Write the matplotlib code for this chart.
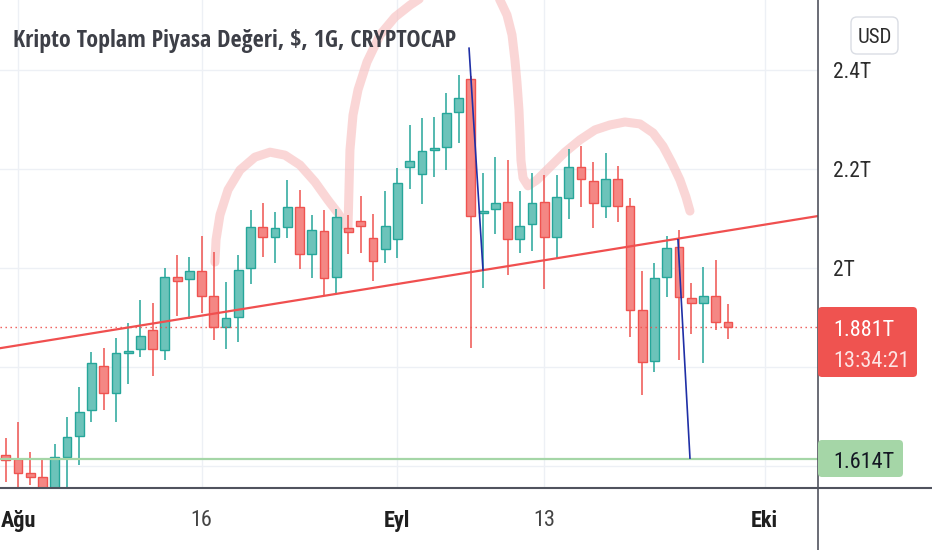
import matplotlib
matplotlib.use('Agg')
import matplotlib.pyplot as plt
import matplotlib.dates as mdates
from matplotlib import font_manager
from matplotlib.patches import FancyBboxPatch
from matplotlib.lines import Line2D
from matplotlib.transforms import IdentityTransform
import numpy as np
import pandas as pd

# ---------------- data (total crypto market cap, trillions USD, daily) ----------------
dates = pd.date_range('2021-07-31', periods=60, freq='D')
opens = [1.622, 1.614, 1.586, 1.578, 1.552, 1.618, 1.661, 1.713, 1.802, 1.747,
         1.828, 1.836, 1.875, 1.834, 1.982, 1.978, 1.994, 1.943, 1.881, 1.901,
         2.000, 2.083, 2.063, 2.083, 2.123, 2.028, 2.075, 1.982, 2.081, 2.095,
         2.061, 2.038, 2.059, 2.204, 2.190, 2.238, 2.244, 2.315, 2.382, 2.111,
         2.119, 2.133, 2.059, 2.089, 2.133, 2.063, 2.141, 2.204, 2.176, 2.125,
         2.180, 2.125, 1.915, 1.812, 1.982, 2.042, 1.939, 1.929, 1.943, 1.891]
highs = [1.657, 1.689, 1.628, 1.614, 1.644, 1.699, 1.760, 1.830, 1.838, 1.859,
         1.889, 1.935, 1.929, 2.000, 2.026, 2.022, 2.065, 2.032, 1.972, 2.026,
         2.117, 2.131, 2.113, 2.178, 2.158, 2.107, 2.117, 2.119, 2.107, 2.145,
         2.109, 2.156, 2.202, 2.289, 2.303, 2.305, 2.354, 2.390, 2.388, 2.192,
         2.224, 2.218, 2.156, 2.192, 2.188, 2.188, 2.240, 2.246, 2.214, 2.232,
         2.206, 2.141, 1.994, 2.010, 2.065, 2.077, 1.970, 2.002, 2.016, 1.927]
lows = [1.568, 1.547, 1.562, 1.541, 1.541, 1.556, 1.602, 1.689, 1.713, 1.689,
        1.766, 1.820, 1.782, 1.814, 1.903, 1.897, 1.909, 1.855, 1.836, 1.851,
        1.968, 2.022, 2.010, 2.061, 1.998, 1.980, 1.945, 1.949, 2.028, 2.030,
        1.974, 2.010, 2.020, 2.160, 2.129, 2.184, 2.198, 2.253, 1.838, 1.960,
        2.069, 1.986, 2.030, 2.034, 1.958, 2.020, 2.099, 2.123, 2.081, 2.101,
        2.093, 1.861, 1.743, 1.790, 1.941, 1.814, 1.867, 1.808, 1.875, 1.857]
closes = [1.612, 1.586, 1.578, 1.552, 1.618, 1.659, 1.709, 1.808, 1.747, 1.828,
          1.832, 1.863, 1.836, 1.982, 1.974, 1.994, 1.943, 1.881, 1.899, 1.996,
          2.083, 2.063, 2.081, 2.123, 2.028, 2.077, 1.980, 2.103, 2.073, 2.085,
          2.014, 2.085, 2.172, 2.216, 2.236, 2.242, 2.313, 2.343, 2.105, 2.115,
          2.131, 2.059, 2.085, 2.131, 2.063, 2.143, 2.204, 2.180, 2.131, 2.180,
          2.125, 1.915, 1.810, 1.980, 2.040, 1.941, 1.929, 1.943, 1.891, 1.881]

last_price = 1.881
support_level = 1.614
countdown = '13:34:21'
title = 'Kripto Toplam Piyasa Değeri, $, 1G, CRYPTOCAP'

y_ticks = [1.6, 1.8, 2.0, 2.2, 2.4]
y_tick_labels = ['', '', '2T', '2.2T', '2.4T']
x_tick_dates = ['2021-08-01', '2021-08-16', '2021-09-01', '2021-09-13', '2021-10-01']
x_tick_labels = ['Ağu', '16', 'Eyl', '13', 'Eki']
x_tick_bold = [True, False, True, False, True]

# drawings: (days after 2021-08-01, value in T)
trend_days = [-1.47, 65.36]
trend_vals = [1.838, 2.105]
blue1_days = [36.85, 37.99]
blue1_vals = [2.444, 1.996]
blue2_days = [53.92, 54.90]
blue2_vals = [2.057, 1.616]
hs_days = [16.09, 16.18, 16.50, 17.16, 18.14, 19.36, 20.59, 21.81, 23.04, 24.26, 25.33,
           26.14, 26.80, 26.96, 27.04, 27.12, 27.37, 27.78, 28.51, 29.58, 30.80, 32.03,
           33.66, 35.70, 37.75, 39.13, 39.95, 40.36, 40.60, 40.77, 40.93, 41.01, 41.09,
           41.26, 41.67, 42.40, 43.46, 44.69, 45.92, 47.14, 48.37, 49.59, 50.82, 51.88,
           52.70, 53.43, 54.08, 54.58, 54.90]
hs_vals = [2.012, 2.057, 2.107, 2.158, 2.198, 2.224, 2.234, 2.228, 2.208, 2.174, 2.137,
           2.111, 2.085, 2.081, 2.158, 2.238, 2.309, 2.360, 2.416, 2.471, 2.507, 2.531,
           2.558, 2.578, 2.574, 2.554, 2.511, 2.471, 2.420, 2.374, 2.319, 2.273, 2.218,
           2.182, 2.166, 2.178, 2.204, 2.234, 2.259, 2.279, 2.289, 2.295, 2.291, 2.273,
           2.246, 2.212, 2.178, 2.143, 2.115]

# ---------------- fonts ----------------
avail = {f.name for f in font_manager.fontManager.ttflist}
def pick(*names):
    for n in names:
        if n in avail:
            return n
    return 'DejaVu Sans'
NARROW = pick('Liberation Sans Narrow', 'Roboto Condensed', 'DejaVu Sans Condensed',
              'Liberation Sans')
TITLE_FONT = pick('Open Sans Condensed', 'Liberation Sans Narrow', 'Roboto Condensed',
                  'Liberation Sans')

# ---------------- figure ----------------
W, H = 932, 550
fig = plt.figure(figsize=(W / 100, H / 100), dpi=100)
fig.patch.set_facecolor('white')
ax = fig.add_axes([0, 62 / H, 818 / W, 488 / H])
ax.set_facecolor('white')

x = mdates.date2num(dates)
base = mdates.date2num(pd.Timestamp('2021-08-01'))
o = np.array(opens); h = np.array(highs); l = np.array(lows); c = np.array(closes)
up = c >= o
UP, DN = '#26a69a', '#ef5350'
UPF, DNF = '#6cc3ba', '#f48784'
edge = np.where(up, UP, DN)
face = np.where(up, UPF, DNF)

# highlighter head & shoulders
ax.plot(base + np.array(hs_days), hs_vals, color='#f7bcbc', alpha=0.6, lw=6.5,
        solid_capstyle='round', solid_joinstyle='round', zorder=2)

ax.vlines(x, l, h, colors=edge, lw=1.1, zorder=3)
bottom = np.minimum(o, c)
height = np.maximum(np.abs(c - o), 0.003)
ax.bar(x, height, bottom=bottom, width=0.72, color=face, edgecolor=edge,
       linewidth=1.0, zorder=4)

ax.axhline(support_level, color='#a5d6a7', lw=1.6, zorder=5)
ax.axhline(last_price, color=DN, lw=1.0, ls=(0, (1, 2.6)), zorder=5)
ax.plot(base + np.array(trend_days), trend_vals, color='#f04f4f', lw=1.6, zorder=6)
ax.plot(base + np.array(blue1_days), blue1_vals, color='#1f2fa6', lw=1.2, zorder=7)
ax.plot(base + np.array(blue2_days), blue2_vals, color='#1f2fa6', lw=1.2, zorder=7)

ax.set_xlim(base - 1.4706, base + 65.36)
ax.set_ylim(1.5556, 2.5414)

ax.set_axisbelow(True)
ax.set_yticks(y_ticks)
ax.set_yticklabels(y_tick_labels)
ax.yaxis.tick_right()
xt = mdates.date2num(pd.to_datetime(x_tick_dates))
ax.set_xticks(xt)
ax.set_xticklabels(x_tick_labels)
ax.grid(True, color='#edf0f5', lw=1.0)
ax.tick_params(axis='both', length=0)
ax.tick_params(axis='y', pad=10.8, labelsize=15.5, labelcolor='#2b2b2b')
ax.tick_params(axis='x', pad=15.5, labelsize=16, labelcolor='#2b2b2b')
for lab in ax.get_yticklabels():
    lab.set_fontfamily(NARROW)
for lab, b in zip(ax.get_xticklabels(), x_tick_bold):
    lab.set_fontfamily(NARROW)
    if b:
        lab.set_fontweight('bold')
        lab.set_color('#1f1f1f')
    else:
        lab.set_color('#444444')
for s in ax.spines.values():
    s.set_visible(False)

# axis frame lines
fig.add_artist(Line2D([0, 1], [62 / H, 62 / H], transform=fig.transFigure,
                      color='#50535e', lw=1.5))
fig.add_artist(Line2D([818 / W, 818 / W], [0, 1], transform=fig.transFigure,
                      color='#50535e', lw=1.2))

IT = IdentityTransform()
def box(x0, y0, x1, y1, fc, ec='none', lw=0, r=4, z=3):
    p = FancyBboxPatch((x0, H - y1), x1 - x0, y1 - y0,
                       boxstyle='round,pad=0,rounding_size=%g' % r,
                       transform=IT, fc=fc, ec=ec, lw=lw, zorder=z)
    fig.add_artist(p)

# price labels
box(818, 307, 917, 377, DN)
fig.text(833, H - 336, '%.3fT' % last_price, transform=IT, color='white',
         fontsize=16, family=NARROW, va='baseline', zorder=4)
fig.text(833, H - 367, countdown, transform=IT, color='#fde4e4',
         fontsize=16, family=NARROW, va='baseline', zorder=4)
box(818, 440, 903, 477, '#a5d6a7')
fig.text(833, H - 468, '%.3fT' % support_level, transform=IT, color='#131722',
         fontsize=16, family=NARROW, va='baseline', zorder=4)
# currency badge
box(851, 17, 898, 54, 'white', ec='#dadde4', lw=1.0, r=6)
fig.text(874.5, H - 43, 'USD', transform=IT, color='#2b2b2b', ha='center',
         fontsize=15, family=NARROW, va='baseline', zorder=4)

# title, fitted to the reference width
t = fig.text(13, H - 47, title, transform=IT, color='#3d3f47', fontsize=20,
             fontweight='bold', family=TITLE_FONT, va='baseline', zorder=4)
fig.canvas.draw()
wpx = t.get_window_extent(fig.canvas.get_renderer()).width
t.set_fontsize(20 * 442 / wpx)

fig.savefig('out.png', dpi=100, facecolor='white')
